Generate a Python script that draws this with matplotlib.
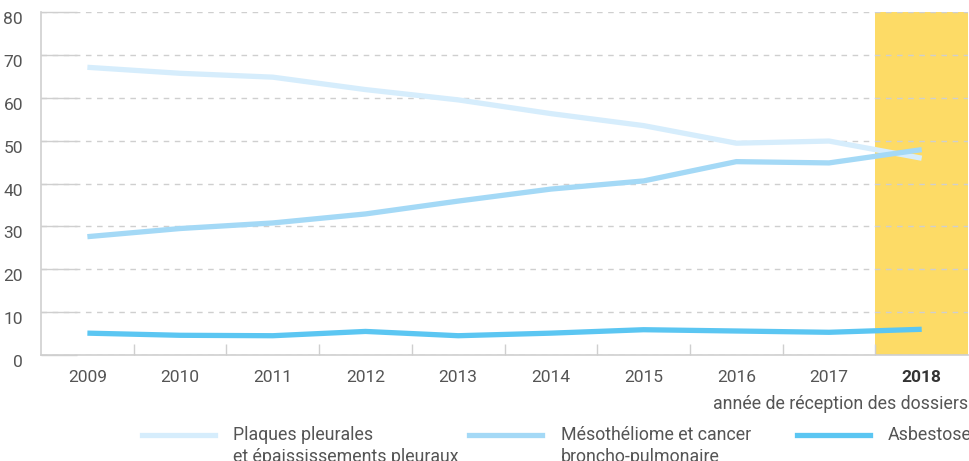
import matplotlib
matplotlib.use("Agg")
import matplotlib.pyplot as plt
import matplotlib.transforms as mtransforms
from matplotlib.lines import Line2D

plt.rcParams['font.family'] = ['Roboto', 'DejaVu Sans']

# données
annees = ['2009', '2010', '2011', '2012', '2013', '2014', '2015', '2016', '2017', '2018']
plaques = [67.1, 65.7, 64.8, 61.9, 59.5, 56.3, 53.5, 49.4, 49.9, 45.9]
mesotheliome = [27.6, 29.5, 30.8, 32.9, 35.9, 38.7, 40.6, 45.1, 44.8, 47.9]
asbestose = [5.1, 4.6, 4.5, 5.5, 4.5, 5.1, 5.9, 5.6, 5.3, 6.0]

noms = ['Plaques pleurales\net épaississements pleuraux',
        'Mésothéliome et cancer\nbroncho-pulmonaire',
        'Asbestose']
couleurs = ['#d6edfc', '#a4d9f6', '#5bc6f2']
gris = '#555555'

fig = plt.figure(figsize=(9.7, 4.61), dpi=100)
ax = fig.add_axes([0.0423, 0.2299, 0.9557, 0.7441])

x = list(range(len(annees)))
ax.axvspan(8.5, 9.5, color='#fddb66', zorder=0, lw=0)

for serie, c in zip([plaques, mesotheliome, asbestose], couleurs):
    ax.plot(x, serie, color=c, lw=3.8, solid_capstyle='butt', zorder=3)

ax.set_xlim(-0.5, 9.5)
ax.set_ylim(0, 80)
ax.set_yticks(range(0, 81, 10))
ax.yaxis.grid(True, linestyle=(0, (4, 4)), color='#cfcfcf', lw=1, zorder=1)
ax.set_axisbelow(False)

# petits traits pleins à gauche des lignes de grille
ax.tick_params(axis='y', direction='in', length=26, color='#cfcfcf', width=1,
               labelsize=12.5, labelcolor=gris, pad=13)
ax.set_yticklabels([str(v) for v in range(0, 81, 10)])
decal = mtransforms.ScaledTranslation(0, -6 / 100, fig.dpi_scale_trans)
for t in ax.get_yticklabels():
    t.set_transform(t.get_transform() + decal)

# graduations x entre les catégories
ax.set_xticks([i + 0.5 for i in range(9)], minor=True)
ax.set_xticks(x)
ax.set_xticklabels(annees)
ax.tick_params(axis='x', which='major', length=0, labelsize=12.5, labelcolor=gris, pad=11)
ax.tick_params(axis='x', which='minor', direction='in', length=8, color='#cfcfcf', width=1)
lbl = ax.get_xticklabels()[-1]
lbl.set_fontweight('bold')
lbl.set_color('#333333')

for s in ['top', 'right']:
    ax.spines[s].set_visible(False)
for s in ['left', 'bottom']:
    ax.spines[s].set_color('#cfcfcf')
    ax.spines[s].set_linewidth(1.2)

fig.text(0.998, 1 - 404 / 461, "année de réception des dossiers", ha='right', va='center',
         fontsize=12.8, color=gris)

# légende
pos_lignes = [(142, 215), (469, 542), (797, 870)]
pos_textes = [233, 561, 888]
y_leg = 1 - 435 / 461
for (x0, x1), xt, nom, c in zip(pos_lignes, pos_textes, noms, couleurs):
    fig.add_artist(Line2D([x0 / 970, x1 / 970], [y_leg, y_leg], color=c, lw=3.8,
                          transform=fig.transFigure))
    fig.text(xt / 970, 1 - 426 / 461, nom, ha='left', va='top', fontsize=12.8,
             color=gris, linespacing=1.3)

fig.savefig('out.png', dpi=100)
